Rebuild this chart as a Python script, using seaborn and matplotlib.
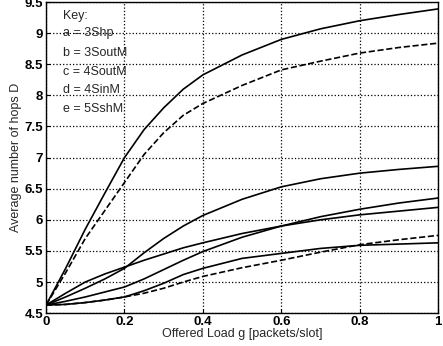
import seaborn as sns
import matplotlib
matplotlib.use("Agg")
import matplotlib.pyplot as plt
import pandas as pnd

sns.set_style("ticks")
plt.rcParams['font.family'] = ['Liberation Sans', 'DejaVu Sans']
plt.rcParams['font.size'] = 9
plt.rcParams['xtick.direction'] = 'in'
plt.rcParams['ytick.direction'] = 'in'

# offered load values
load = [0.0, 0.05, 0.1, 0.15, 0.2, 0.25, 0.3, 0.35, 0.4, 0.5, 0.6, 0.7, 0.8, 0.9, 1.0]

# average hops per curve
top_solid = [4.63, 5.22, 5.85, 6.43, 7.00, 7.45, 7.80, 8.10, 8.33, 8.65, 8.90, 9.07, 9.20, 9.30, 9.39]
top_dashed = [4.63, 5.15, 5.70, 6.15, 6.60, 7.05, 7.40, 7.68, 7.87, 8.16, 8.41, 8.55, 8.68, 8.77, 8.84]
mid_c = [4.63, 4.76, 4.90, 5.05, 5.22, 5.47, 5.70, 5.90, 6.07, 6.33, 6.53, 6.66, 6.75, 6.81, 6.86]
mid_d = [4.63, 4.82, 5.00, 5.13, 5.24, 5.35, 5.45, 5.55, 5.63, 5.78, 5.90, 6.00, 6.08, 6.14, 6.20]
mid_e = [4.63, 4.69, 4.76, 4.84, 4.92, 5.05, 5.20, 5.35, 5.49, 5.72, 5.90, 6.05, 6.17, 6.27, 6.35]
low_solid = [4.63, 4.64, 4.67, 4.71, 4.76, 4.86, 4.98, 5.12, 5.22, 5.38, 5.46, 5.54, 5.59, 5.61, 5.63]
low_dashed = [4.63, 4.64, 4.67, 4.71, 4.76, 4.82, 4.90, 5.00, 5.09, 5.23, 5.35, 5.48, 5.60, 5.68, 5.75]

curves = [
    (top_solid, '-'),
    (top_dashed, '--'),
    (mid_c, '-'),
    (mid_d, '-'),
    (mid_e, '-'),
    (low_solid, '-'),
    (low_dashed, '--'),
]

key_lines = ["Key:", "a = 3Shp", "b = 3SoutM", "c = 4SoutM", "d = 4SinM", "e = 5SshM"]
key_y = [9.28, 9.0, 8.68, 8.38, 8.09, 7.78]

fig = plt.figure(figsize=(4.43, 3.46), dpi=100)
ax = fig.add_axes([0.104, 0.095, 0.885, 0.899])

for vals, ls in curves:
    df = pnd.DataFrame({"g": load, "D": vals})
    sns.lineplot(data=df, x="g", y="D", ax=ax, color="black", linestyle=ls,
                 linewidth=1.2)

ax.set_xlim(0, 1)
ax.set_ylim(4.5, 9.5)
ax.set_xticks([0, 0.2, 0.4, 0.6, 0.8, 1.0])
ax.set_xticklabels(["0", "0.2", "0.4", "0.6", "0.8", "1"])
ax.set_yticks([4.5, 5, 5.5, 6, 6.5, 7, 7.5, 8, 8.5, 9, 9.5])
ax.set_yticklabels(["4.5", "5", "5.5", "6", "6.5", "7", "7.5", "8", "8.5", "9", "9.5"])
ax.grid(True, color="black", linestyle=":", linewidth=0.9)
for s in ax.spines.values():
    s.set_color("black")
    s.set_linewidth(1.0)
ax.tick_params(colors="black", length=3, pad=2, labelsize=9.5)
for lbl in ax.get_xticklabels() + ax.get_yticklabels():
    lbl.set_fontweight("bold")

ax.set_xlabel("Offered Load g [packets/slot]", fontsize=9, labelpad=0)
ax.set_ylabel("Average number of hops D", fontsize=9, labelpad=2)

for txt, yy in zip(key_lines, key_y):
    ax.text(0.042, yy, txt, fontsize=9, va="center", ha="left")

fig.savefig("out.png", dpi=100)
